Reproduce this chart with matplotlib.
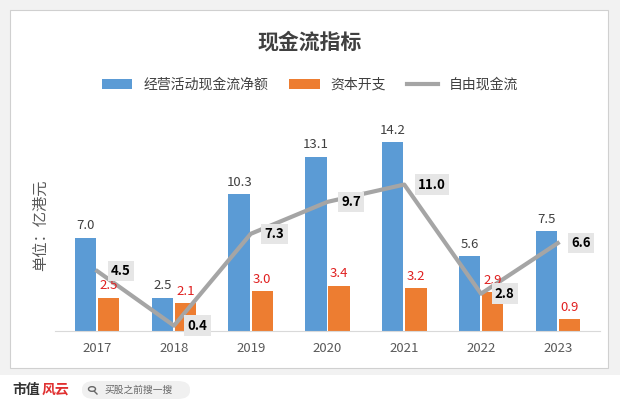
import matplotlib
matplotlib.use("Agg")
import matplotlib.pyplot as plt
from matplotlib.patches import Rectangle, FancyBboxPatch, Circle
from matplotlib.lines import Line2D
import numpy as np

plt.rcParams['font.family'] = ['Noto Sans CJK SC', 'DejaVu Sans']

years = ['2017', '2018', '2019', '2020', '2021', '2022', '2023']
ocf = [7.0, 2.5, 10.3, 13.1, 14.2, 5.6, 7.5]
capex = [2.5, 2.1, 3.0, 3.4, 3.2, 2.9, 0.9]
fcf = [4.5, 0.4, 7.3, 9.7, 11.0, 2.8, 6.6]

blue = '#5b9bd5'; orange = '#ed7d31'; gray = '#a5a5a5'

fig = plt.figure(figsize=(6.2, 4.11), dpi=100)
fig.patch.set_facecolor('#f2f2f2')
fig.add_artist(Rectangle((10/620, 1-368/411), 598/620, 358/411, transform=fig.transFigure,
                         facecolor='white', edgecolor='#d0d0d0', lw=0.8, zorder=-10))
fig.add_artist(Rectangle((0, 0), 1, 36/411, transform=fig.transFigure, facecolor='white', edgecolor='none', zorder=-10))
fig.text(12/620, 1-390/411, '市值', fontsize=10, fontweight='bold', color='#333333', va='center')
fig.text(42/620, 1-390/411, '风云', fontsize=10, fontweight='bold', color='#e03030', va='center', style='italic')
fig.add_artist(FancyBboxPatch((82/620, 1-399/411), 108/620, 18/411, transform=fig.transFigure,
                              boxstyle='round,pad=0,rounding_size=0.02', facecolor='#f0f0f0', edgecolor='none', zorder=-5))
fig.add_artist(Circle((92/620, 1-389/411), 3.5/620, transform=fig.transFigure, facecolor='none',
                      edgecolor='#666666', lw=1))
fig.add_artist(Line2D([94.5/620, 97/620], [1-391.5/411, 1-394/411], transform=fig.transFigure, color='#666666', lw=1))
fig.text(104/620, 1-390/411, '买股之前搜一搜', fontsize=7, color='#666666', va='center')

fig.text(0.5, 1-42/411, '现金流指标', ha='center', va='center', fontsize=15, fontweight='bold', color='#404040')

ax = fig.add_axes([55/620, 1-331/411, 545/620, 213/411])
x = np.arange(len(years))
w = 0.28
b1 = ax.bar(x - 0.15, ocf, w, color=blue, label='经营活动现金流净额', zorder=2)
b2 = ax.bar(x + 0.15, capex, w, color=orange, label='资本开支', zorder=2)
l1, = ax.plot(x, fcf, color=gray, lw=3, label='自由现金流', zorder=3)
for i in range(len(x)):
    ax.text(x[i] - 0.15, ocf[i] + 0.4, f'{ocf[i]:.1f}', ha='center', va='bottom', fontsize=9.5, color='#404040')
    ax.text(x[i] + 0.15, capex[i] + 0.4, f'{capex[i]:.1f}', ha='center', va='bottom', fontsize=9.5, color='#e02020')
    ax.text(x[i] + 0.18, fcf[i], f'{fcf[i]:.1f}', ha='left', va='center', fontsize=9.5, fontweight='bold',
            color='black', zorder=4, bbox=dict(boxstyle='square,pad=0.25', facecolor='#e6e6e6', edgecolor='none'))
ax.set_xlim(-0.55, 6.55)
ax.set_ylim(0, 16)
ax.set_xticks(x)
ax.set_xticklabels(years, fontsize=9.5, color='#595959')
ax.set_yticks([])
for s in ['top', 'right', 'left']:
    ax.spines[s].set_visible(False)
ax.spines['bottom'].set_color('#d9d9d9')
ax.tick_params(axis='x', length=0, pad=8)
ax.set_facecolor('none')
fig.text(40/620, 1-225/411, '单位：亿港元', rotation=90, ha='center', va='center', fontsize=11, color='#595959')
fig.legend([b1, b2, l1], ['经营活动现金流净额', '资本开支', '自由现金流'], loc='center',
           bbox_to_anchor=(0.5, 1-85/411), ncol=3, frameon=False, fontsize=10,
           handlelength=2.2, columnspacing=1.5, labelcolor='#404040')
fig.savefig('out.png', dpi=100, facecolor=fig.get_facecolor())
